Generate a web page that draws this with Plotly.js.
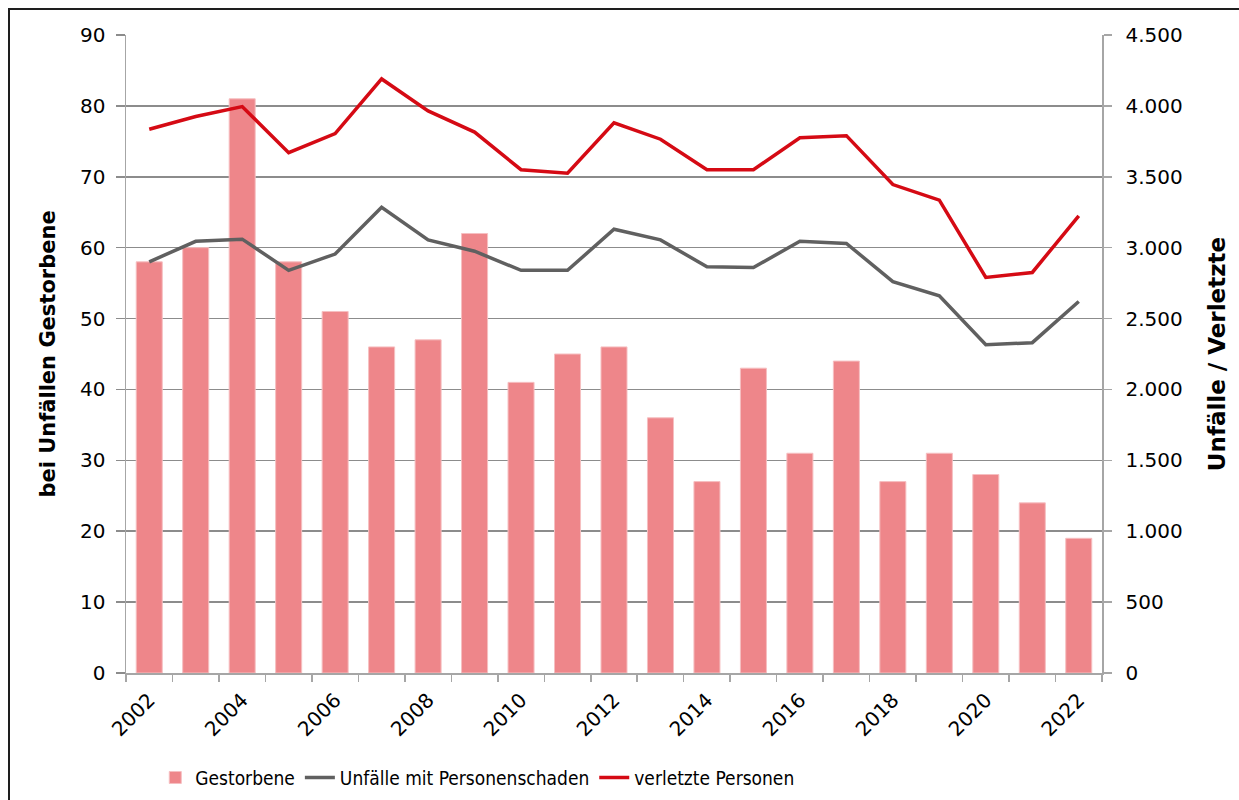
<!DOCTYPE html>
<html>
<head>
<meta charset="utf-8">
<script src="https://cdn.plot.ly/plotly-3.0.1.min.js"></script>
<style>
  html, body { margin: 0; padding: 0; background: #ffffff; }
  #chart { width: 1239px; height: 800px; position: absolute; left: 0; top: 0; }
  #frame { position: absolute; left: 8px; top: 8px; width: 1300px; height: 900px;
           border-left: 2px solid #1e1e1e; border-top: 2px solid #1e1e1e; pointer-events: none; }
</style>
</head>
<body>
<div id="chart"></div>
<div id="frame"></div>
<script>
const years = [2002, 2003, 2004, 2005, 2006, 2007, 2008, 2009, 2010, 2011, 2012,
               2013, 2014, 2015, 2016, 2017, 2018, 2019, 2020, 2021, 2022];
const gestorbene = [58, 60, 81, 58, 51, 46, 47, 62, 41, 45, 46,
                    36, 27, 43, 31, 44, 27, 31, 28, 24, 19];
const unfaelle = [2900, 3045, 3060, 2840, 2955, 3285, 3055, 2975, 2840, 2840, 3130,
                  3055, 2865, 2860, 3045, 3030, 2760, 2660, 2315, 2330, 2620];
const verletzte = [3835, 3925, 3995, 3670, 3805, 4190, 3965, 3815, 3550, 3525, 3880,
                   3765, 3550, 3550, 3775, 3790, 3445, 3335, 2790, 2825, 3225];
const labelYears = [2002, 2004, 2006, 2008, 2010, 2012, 2014, 2016, 2018, 2020, 2022];
const labelText = labelYears.map(String);

const tickFont = { family: 'DejaVu Sans, sans-serif', size: 20, color: '#000000' };

const traces = [
  {
    type: 'bar', name: 'Gestorbene', x: years, y: gestorbene, yaxis: 'y',
    marker: { color: '#EE868A', line: { color: '#F6BFC1', width: 1 } },
    hoverinfo: 'x+y'
  },
  {
    type: 'scatter', mode: 'lines', name: 'Unfälle mit Personenschaden',
    x: years, y: unfaelle, yaxis: 'y2',
    line: { color: '#606060', width: 3.5 }
  },
  {
    type: 'scatter', mode: 'lines', name: 'verletzte Personen',
    x: years, y: verletzte, yaxis: 'y2',
    line: { color: '#D50A14', width: 3.5 }
  }
];

const layout = {
  width: 1239, height: 800,
  margin: { l: 126, r: 137, t: 35, b: 127, pad: 0, autoexpand: false },
  paper_bgcolor: '#ffffff', plot_bgcolor: '#ffffff',
  separators: ',.',
  bargap: 0.44,
  showlegend: true,
  legend: {
    orientation: 'h', x: 0.03, xanchor: 'left', y: -0.164, yanchor: 'middle',
    font: { family: 'DejaVu Sans Condensed, sans-serif', size: 19, color: '#000000' },
    bgcolor: 'rgba(0,0,0,0)', traceorder: 'normal', itemwidth: 30
  },
  xaxis: {
    type: 'linear', range: [2001.5, 2022.5], fixedrange: true, automargin: false,
    tickmode: 'array', tickvals: labelYears, ticktext: labelText,
    tickangle: -45, ticks: '', tickfont: tickFont, ticklabelstandoff: 6,
    showgrid: false, zeroline: false,
    showline: true, linecolor: '#A6A6A6', linewidth: 1.5,
    minor: { tickmode: 'linear', tick0: 2001.5, dtick: 1, ticks: 'outside', ticklen: 7,
             tickwidth: 1.5, tickcolor: '#A6A6A6', showgrid: false }
  },
  yaxis: {
    range: [0, 90], dtick: 10, tick0: 0, fixedrange: true, automargin: false,
    ticks: 'outside', ticklen: 9, tickwidth: 1.5, tickcolor: '#8C8C8C',
    tickfont: tickFont, ticklabelstandoff: 6,
    showgrid: true, gridcolor: '#8C8C8C', gridwidth: 1.5,
    zeroline: false, showline: true, linecolor: '#A6A6A6', linewidth: 1.5,
    title: { text: 'bei Unfällen Gestorbene', standoff: 18,
             font: { family: 'DejaVu Sans, sans-serif', size: 21, color: '#000000', weight: 'bold' } }
  },
  yaxis2: {
    overlaying: 'y', side: 'right', range: [0, 4500], dtick: 500, tick0: 0, fixedrange: true,
    automargin: false,
    tickformat: ',d', ticks: 'outside', ticklen: 8, tickwidth: 1.5, tickcolor: '#A6A6A6',
    tickfont: tickFont, ticklabelstandoff: 10,
    showgrid: false, zeroline: false, showline: true, linecolor: '#A6A6A6', linewidth: 1.5,
    title: { text: 'Unfälle / Verletzte', standoff: 27,
             font: { family: 'DejaVu Sans, sans-serif', size: 23, color: '#000000', weight: 'bold' } }
  }
};

Plotly.newPlot('chart', traces, layout, { displayModeBar: false, staticPlot: true });
</script>
</body>
</html>
